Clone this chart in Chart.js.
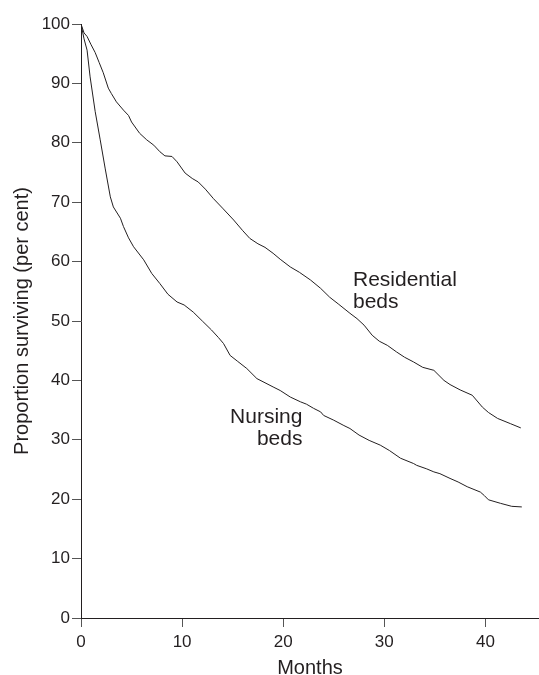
<!DOCTYPE html>
<html>
<head>
<meta charset="utf-8">
<script src="https://cdn.jsdelivr.net/npm/chart.js@4.4.1/dist/chart.umd.min.js"></script>
<style>
html,body{margin:0;padding:0;background:#fff;}
canvas{display:block;}
</style>
</head>
<body>
<canvas id="chart" width="539" height="675"></canvas>
<script>

// ------------------------------
// DATA
// ------------------------------

const residentialMonths = [0,0.3,0.6,1.0,1.4,1.8,2.2,2.7,3.0,3.5,4.2,4.7,5.0,5.8,6.5,7.2,7.8,8.3,9.0,9.5,10.3,11.0,11.6,12.3,13.1,14.0,15.1,16.0,16.7,17.5,18.2,19.0,19.7,20.7,21.6,22.7,23.7,24.6,25.5,26.6,27.3,28.0,28.8,29.5,30.3,31.2,32.0,32.9,33.8,34.9,35.9,36.5,37.5,38.7,39.7,40.3,41.2,42.5,43.5]
const residentialValues = [100,98.5,97.9,96.5,95.2,93.5,91.8,89.2,88.3,86.9,85.5,84.6,83.5,81.6,80.5,79.6,78.5,77.8,77.7,76.8,74.9,74.0,73.4,72.2,70.6,69.0,67.0,65.2,63.9,63.0,62.4,61.4,60.4,59.1,58.2,56.9,55.5,54.0,52.8,51.3,50.4,49.3,47.6,46.6,45.9,44.8,43.9,43.1,42.2,41.7,40.0,39.3,38.4,37.5,35.5,34.6,33.6,32.7,32.0]

const nursingMonths = [0,0.3,0.6,0.9,1.4,1.9,2.4,2.9,3.2,3.9,4.2,4.7,5.2,6.2,7.0,7.8,8.6,9.5,10.2,11.1,12.0,12.9,13.6,14.1,14.75,15.5,16.4,17.4,18.2,19.0,19.7,20.7,21.7,22.3,23.0,23.7,24.0,25.0,26.0,26.6,27.5,28.5,29.6,30.5,31.6,32.9,33.2,34.2,34.9,35.5,36.5,37.3,38.2,39.5,39.9,40.3,41.5,42.6,43.6]
const nursingValues = [100,97.5,95.6,91.1,85.3,80.5,75.6,70.9,69.2,67.3,65.9,64.0,62.5,60.3,58.0,56.3,54.5,53.2,52.7,51.5,50.0,48.5,47.2,46.2,44.2,43.2,42.0,40.3,39.6,38.9,38.3,37.2,36.4,36.0,35.3,34.7,34.1,33.3,32.4,31.9,30.8,29.9,29.1,28.2,26.9,26.0,25.7,25.1,24.6,24.3,23.5,22.9,22.1,21.2,20.6,19.9,19.3,18.8,18.7]

const xTicks = [0,10,20,30,40]
const yTicks = [0,10,20,30,40,50,60,70,80,90,100]

const curveLabels = [
    {lines:["Residential","beds"], x:26.9, y:55.9, align:"left"},
    {lines:["Nursing","beds"], x:21.9, y:32.8, align:"right"}
]

// ------------------------------
// STYLE
// ------------------------------

const INK = "#231f20"
const TICK = "#555"
const FONT = "'Liberation Sans', Arial, Helvetica, sans-serif"

function toPoints(xs, ys){
    return xs.map((x,i)=>({x:x, y:ys[i]}))
}

// text next to each curve, placed in data units
const curveLabelPlugin = {
    id:"curveLabels",
    afterDatasetsDraw(chart){
        const ctx = chart.ctx
        const xs = chart.scales.x
        const ys = chart.scales.y
        ctx.save()
        ctx.fillStyle = INK
        ctx.font = "21px " + FONT
        ctx.textBaseline = "alphabetic"
        for(const l of curveLabels){
            ctx.textAlign = l.align
            const px = xs.getPixelForValue(l.x)
            const py = ys.getPixelForValue(l.y)
            l.lines.forEach((t,i)=>ctx.fillText(t, px, py + i*22))
        }
        ctx.restore()
    }
}

// ------------------------------
// CHART
// ------------------------------

const ctx = document.getElementById("chart").getContext("2d")

new Chart(ctx,{
    type:"line",
    data:{
        datasets:[
            {
                label:"Residential beds",
                data:toPoints(residentialMonths, residentialValues),
                borderColor:INK,
                borderWidth:1,
                pointRadius:0,
                tension:0,
                fill:false
            },
            {
                label:"Nursing beds",
                data:toPoints(nursingMonths, nursingValues),
                borderColor:INK,
                borderWidth:1,
                pointRadius:0,
                tension:0,
                fill:false
            }
        ]
    },
    options:{
        responsive:false,
        animation:false,
        devicePixelRatio:1,
        layout:{padding:{top:24,right:0,bottom:0,left:0}},
        plugins:{
            legend:{display:false},
            tooltip:{enabled:false}
        },
        scales:{
            x:{
                type:"linear",
                min:0,
                max:45.3,
                afterBuildTicks:s=>{ s.ticks = xTicks.map(v=>({value:v})) },
                afterFit:s=>{ s.height = 57 },
                grid:{drawOnChartArea:false, drawTicks:true, tickLength:9, color:TICK},
                border:{display:true, color:INK, width:1},
                ticks:{color:INK, font:{family:FONT, size:17}, padding:5, maxRotation:0},
                title:{display:true, text:"Months", color:INK, font:{family:FONT, size:20}, padding:{top:0, bottom:-5}}
            },
            y:{
                min:0,
                max:100,
                afterBuildTicks:s=>{ s.ticks = yTicks.map(v=>({value:v})) },
                afterFit:s=>{ s.width = 81 },
                grid:{drawOnChartArea:false, drawTicks:true, tickLength:9, color:TICK},
                border:{display:true, color:INK, width:1},
                ticks:{color:INK, font:{family:FONT, size:17}, padding:2},
                title:{display:true, text:"Proportion surviving (per cent)", color:INK, font:{family:FONT, size:20}, padding:{top:10, bottom:0}}
            }
        }
    },
    plugins:[curveLabelPlugin]
})

</script>
</body>
</html>
